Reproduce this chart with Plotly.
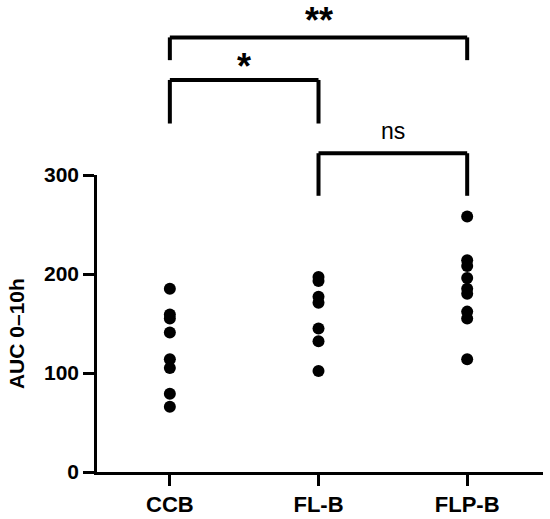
import plotly.graph_objects as go

groups = ["CCB", "FL-B", "FLP-B"]
ccb_vals = [185, 159, 155, 141, 114, 105, 79, 66]
flb_vals = [197, 193, 177, 171, 145, 132, 102]
flpb_vals = [258, 214, 208, 196, 185, 180, 162, 155, 114]

y_ticks = [0, 100, 200, 300]
y_title = "AUC 0–10h"

# significance brackets: (left group idx, right group idx, line level, tip level, label, label level, label size, bold)
brackets = [
    (0, 2, 439, 416, "**", 456, 36, True),
    (0, 1, 396, 352, "*", 410, 36, True),
    (1, 2, 322, 279, "ns", 344, 23, False),
]

FONT = "Liberation Sans, Arial, sans-serif"
YMAX = 300.0

fig = go.Figure()
for i, vals in enumerate([ccb_vals, flb_vals, flpb_vals]):
    fig.add_trace(go.Scatter(
        x=[groups[i]] * len(vals), y=vals, mode="markers",
        marker=dict(size=12, color="black"),
        showlegend=False, cliponaxis=False,
    ))

shapes = []
annotations = []
for (a, b, lvl, tip, txt, tl, ts, bold) in brackets:
    pts = [(groups[a], tip), (groups[a], lvl), (groups[b], lvl), (groups[b], tip)]
    for (x0, y0), (x1, y1) in zip(pts[:-1], pts[1:]):
        shapes.append(dict(type="line", xref="x", yref="paper",
                           x0=x0, x1=x1, y0=y0 / YMAX, y1=y1 / YMAX,
                           line=dict(color="black", width=4)))
    xa = (a + b) / 2
    annotations.append(dict(x=xa, y=tl / YMAX, xref="x", yref="paper",
                            text=("<b>%s</b>" % txt) if bold else txt,
                            showarrow=False, yanchor="middle",
                            font=dict(family=FONT, size=ts, color="black")))

# y-axis title placed slightly below the axis centre, as in the reference
annotations.append(dict(x=-0.179, y=0.465, xref="paper", yref="paper",
                        text="<b>%s</b>" % y_title, textangle=-90,
                        showarrow=False, xanchor="center", yanchor="middle",
                        font=dict(family=FONT, size=21, color="black")))

fig.update_layout(
    width=550, height=519,
    margin=dict(l=97, r=7, t=175, b=47, autoexpand=False),
    plot_bgcolor="white", paper_bgcolor="white",
    shapes=shapes, annotations=annotations,
    font=dict(family=FONT, color="black"),
    xaxis=dict(
        type="category", range=[-0.49, 2.51], automargin=False,
        showline=True, linecolor="black", linewidth=2.5,
        ticks="outside", ticklen=11, tickwidth=2.5, tickcolor="black",
        tickfont=dict(family=FONT, size=22, color="black"),
        showgrid=False, zeroline=False,
        ticktext=["<b>%s</b>" % g for g in groups], tickvals=groups,
    ),
    yaxis=dict(
        range=[0, YMAX], automargin=False,
        showline=True, linecolor="black", linewidth=2.5,
        ticks="outside", ticklen=11, tickwidth=2.5, tickcolor="black",
        tickvals=y_ticks, ticktext=["<b>%d</b>" % t for t in y_ticks],
        tickfont=dict(family=FONT, size=21, color="black"),
        showgrid=False, zeroline=False,
    ),
)

fig.write_html("out.html", config={"displayModeBar": False},
               post_script="document.body.style.margin='0';document.body.style.overflow='hidden';")
